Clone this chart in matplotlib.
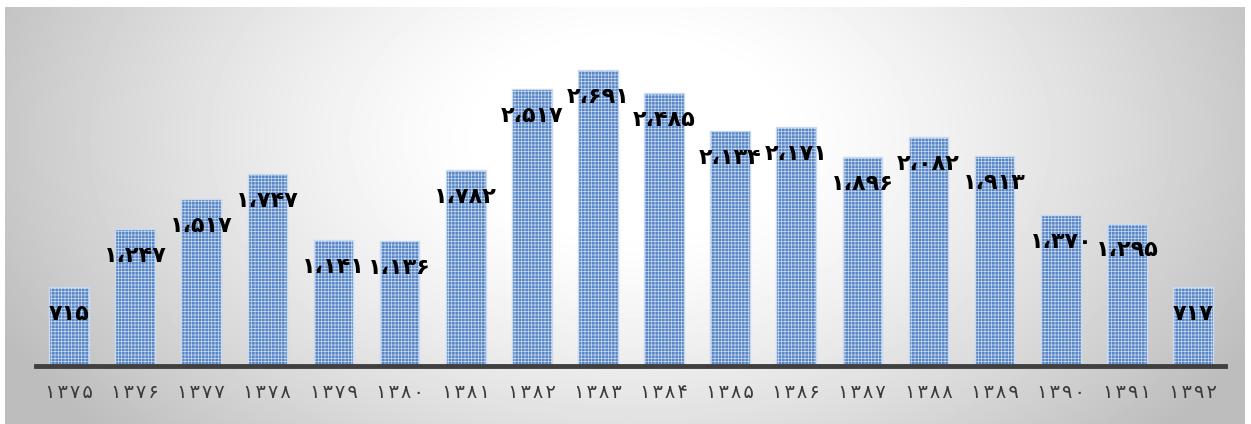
import matplotlib.pyplot as plt
import numpy as np

# yearly totals, Persian calendar years
years = ['۱۳۷۵', '۱۳۷۶', '۱۳۷۷', '۱۳۷۸', '۱۳۷۹', '۱۳۸۰', '۱۳۸۱', '۱۳۸۲', '۱۳۸۳',
         '۱۳۸۴', '۱۳۸۵', '۱۳۸۶', '۱۳۸۷', '۱۳۸۸', '۱۳۸۹', '۱۳۹۰', '۱۳۹۱', '۱۳۹۲']
values = [715, 1247, 1517, 1747, 1141, 1136, 1782, 2517, 2691,
          2485, 2134, 2171, 1896, 2082, 1913, 1370, 1295, 717]

fa_digits = str.maketrans('0123456789', '۰۱۲۳۴۵۶۷۸۹')


def fa_num(v):
    # thousands separator as arabic comma
    return f'{v:,}'.replace(',', '،').translate(fa_digits)


W, H = 1251, 424
fig = plt.figure(figsize=(W / 100, H / 100), dpi=100)

# radial grey background
bg = fig.add_axes([5 / W, 0, 1240 / W, (H - 7) / H])
yy, xx = np.mgrid[0:417, 0:1240]
r = np.sqrt(((xx - 625) / 700.0) ** 2 + ((yy - 130) / 450.0) ** 2)
shade = 1.0 - 0.26 * np.clip(r - 0.2, 0, 1) ** 1.3 / 0.8 ** 1.3
shade = np.clip(shade, 0.74, 1.0)
bg.imshow(shade, cmap='gray', vmin=0, vmax=1, aspect='auto', interpolation='bilinear')
bg.axis('off')

ax = fig.add_axes([36 / W, (H - 366) / H, (1225 - 36) / W, 330 / H])
ax.patch.set_alpha(0)
x = np.arange(len(values))
plt.rcParams['hatch.color'] = '#84a6d8'
plt.rcParams['hatch.linewidth'] = 0.5
bars = ax.bar(x, values, width=0.6, color='#5886c6', edgecolor='#c9daf0',
              linewidth=1.0, hatch='+++++', zorder=2)

for xi, v in zip(x, values):
    ax.text(xi, v - 245, fa_num(v), ha='center', va='center', fontsize=16,
            fontweight='bold', color='black',
            family=['DejaVu Sans Condensed', 'DejaVu Sans'], zorder=3)

ax.set_xlim(-0.5, len(values) - 1 + 32 / 66.1)
ax.set_ylim(0, 3000)
ax.set_xticks(x)
ax.set_xticklabels(['\u200a'.join(y) for y in years], fontsize=14, color='#3a3a3a')
ax.tick_params(axis='x', length=0, pad=12)
ax.set_yticks([])
for s in ['top', 'right', 'left']:
    ax.spines[s].set_visible(False)
ax.spines['bottom'].set_linewidth(3.5)
ax.spines['bottom'].set_color('#404040')

fig.savefig('out.png', dpi=100)
